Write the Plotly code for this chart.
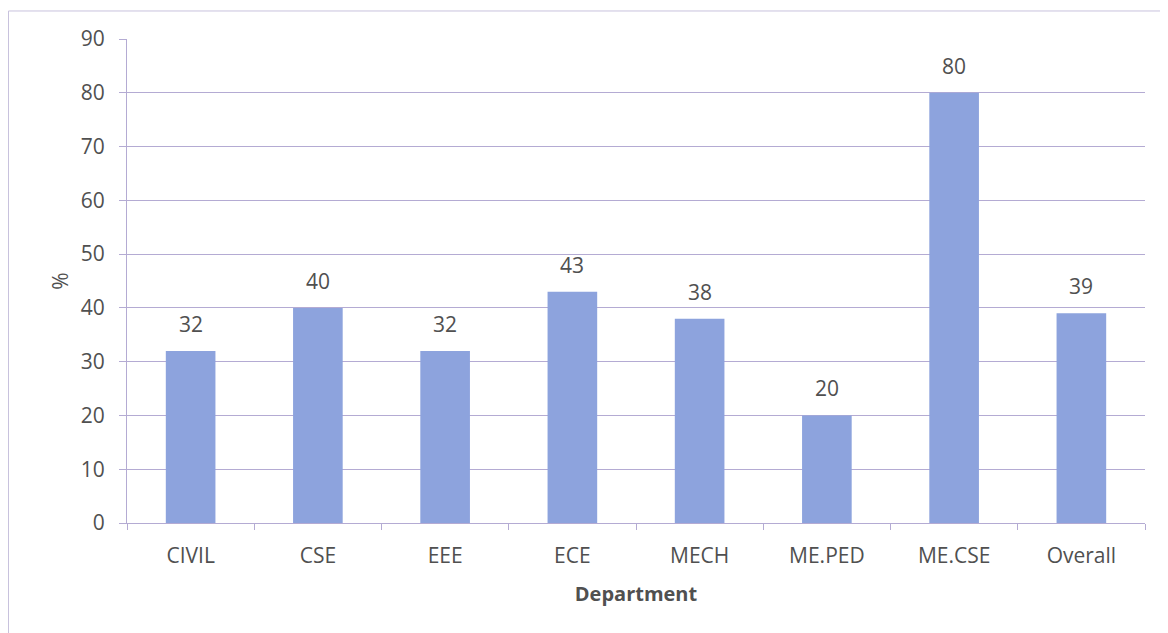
import plotly.graph_objects as go

departments = ["CIVIL", "CSE", "EEE", "ECE", "MECH", "ME.PED", "ME.CSE", "Overall"]
percentages = [32, 40, 32, 43, 38, 20, 80, 39]
y_ticks = [0, 10, 20, 30, 40, 50, 60, 70, 80, 90]

font_family = "Open Sans, Carlito, Liberation Sans, sans-serif"
grid_color = "#B4ABD3"
text_color = "#505050"

fig = go.Figure()
fig.add_trace(go.Bar(
    x=departments,
    y=percentages,
    marker=dict(color="#8DA3DD", line=dict(width=0)),
    width=0.39,
    hoverinfo="x+y",
))

for d, v in zip(departments, percentages):
    fig.add_annotation(x=d, y=v, text=str(v), showarrow=False,
                       yanchor="bottom", yshift=11,
                       font=dict(size=21, color=text_color, family=font_family))

fig.update_layout(
    width=1160, height=625,
    margin=dict(l=119, r=23, t=31, b=110),
    paper_bgcolor="white",
    plot_bgcolor="white",
    showlegend=False,
    font=dict(family=font_family, color=text_color),
    xaxis=dict(
        title=dict(text="<b>Department</b>", font=dict(size=20, color=text_color), standoff=18),
        tickfont=dict(size=21, color=text_color),
        showline=True, linecolor=grid_color, linewidth=1,
        ticks="outside", tickson="boundaries", ticklen=6, tickcolor=grid_color,
        ticklabelstandoff=14,
        showgrid=False,
    ),
    yaxis=dict(
        title=dict(text="%", font=dict(size=21, color=text_color), standoff=6),
        range=[0, 90],
        tickvals=y_ticks,
        tickfont=dict(size=21, color=text_color),
        showgrid=True, gridcolor=grid_color, gridwidth=1,
        showline=True, linecolor=grid_color, linewidth=1,
        ticks="outside", ticklen=7, tickcolor=grid_color,
        ticklabelstandoff=10,
        zeroline=False,
    ),
    bargap=0.61,
)

# outer chart border (scanned frame)
fig.add_shape(type="rect", xref="paper", yref="paper",
              x0=-0.1164, x1=1.0187, y0=-0.3, y1=1.0579,
              line=dict(color="#C8C2DD", width=1), layer="below")

fig.write_html("out.html")
